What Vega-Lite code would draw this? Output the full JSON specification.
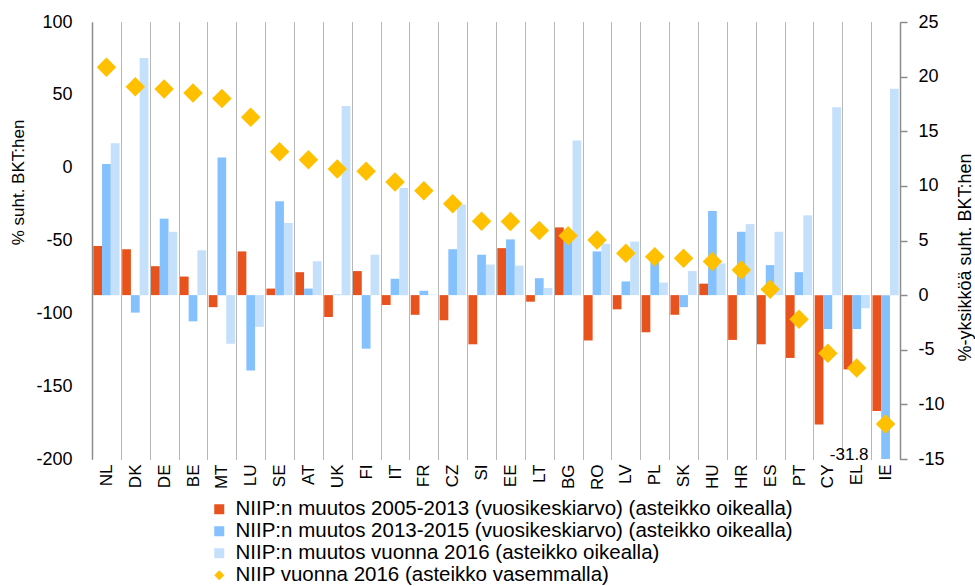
{
  "$schema": "https://vega.github.io/schema/vega-lite/v6.json",
  "width": 808,
  "height": 437,
  "autosize": {"type": "none"},
  "padding": {"left": 92, "top": 22, "right": 75, "bottom": 127},
  "background": "white",
  "config": {"font": "Liberation Sans", "view": {"stroke": null}},
  "datasets": {
    "bars": [
      {"country": "NL", "series": "NIIP:n muutos 2005-2013 (vuosikeskiarvo) (asteikko oikealla)", "value": 4.5},
      {"country": "NL", "series": "NIIP:n muutos 2013-2015 (vuosikeskiarvo) (asteikko oikealla)", "value": 12.0},
      {"country": "NL", "series": "NIIP:n muutos vuonna 2016 (asteikko oikealla)", "value": 13.9},
      {"country": "DK", "series": "NIIP:n muutos 2005-2013 (vuosikeskiarvo) (asteikko oikealla)", "value": 4.2},
      {"country": "DK", "series": "NIIP:n muutos 2013-2015 (vuosikeskiarvo) (asteikko oikealla)", "value": -1.6},
      {"country": "DK", "series": "NIIP:n muutos vuonna 2016 (asteikko oikealla)", "value": 21.7},
      {"country": "DE", "series": "NIIP:n muutos 2005-2013 (vuosikeskiarvo) (asteikko oikealla)", "value": 2.65},
      {"country": "DE", "series": "NIIP:n muutos 2013-2015 (vuosikeskiarvo) (asteikko oikealla)", "value": 7.0},
      {"country": "DE", "series": "NIIP:n muutos vuonna 2016 (asteikko oikealla)", "value": 5.8},
      {"country": "BE", "series": "NIIP:n muutos 2005-2013 (vuosikeskiarvo) (asteikko oikealla)", "value": 1.7},
      {"country": "BE", "series": "NIIP:n muutos 2013-2015 (vuosikeskiarvo) (asteikko oikealla)", "value": -2.4},
      {"country": "BE", "series": "NIIP:n muutos vuonna 2016 (asteikko oikealla)", "value": 4.1},
      {"country": "MT", "series": "NIIP:n muutos 2005-2013 (vuosikeskiarvo) (asteikko oikealla)", "value": -1.1},
      {"country": "MT", "series": "NIIP:n muutos 2013-2015 (vuosikeskiarvo) (asteikko oikealla)", "value": 12.6},
      {"country": "MT", "series": "NIIP:n muutos vuonna 2016 (asteikko oikealla)", "value": -4.45},
      {"country": "LU", "series": "NIIP:n muutos 2005-2013 (vuosikeskiarvo) (asteikko oikealla)", "value": 4.0},
      {"country": "LU", "series": "NIIP:n muutos 2013-2015 (vuosikeskiarvo) (asteikko oikealla)", "value": -6.9},
      {"country": "LU", "series": "NIIP:n muutos vuonna 2016 (asteikko oikealla)", "value": -2.9},
      {"country": "SE", "series": "NIIP:n muutos 2005-2013 (vuosikeskiarvo) (asteikko oikealla)", "value": 0.6},
      {"country": "SE", "series": "NIIP:n muutos 2013-2015 (vuosikeskiarvo) (asteikko oikealla)", "value": 8.6},
      {"country": "SE", "series": "NIIP:n muutos vuonna 2016 (asteikko oikealla)", "value": 6.6},
      {"country": "AT", "series": "NIIP:n muutos 2005-2013 (vuosikeskiarvo) (asteikko oikealla)", "value": 2.1},
      {"country": "AT", "series": "NIIP:n muutos 2013-2015 (vuosikeskiarvo) (asteikko oikealla)", "value": 0.6},
      {"country": "AT", "series": "NIIP:n muutos vuonna 2016 (asteikko oikealla)", "value": 3.1},
      {"country": "UK", "series": "NIIP:n muutos 2005-2013 (vuosikeskiarvo) (asteikko oikealla)", "value": -2.0},
      {"country": "UK", "series": "NIIP:n muutos 2013-2015 (vuosikeskiarvo) (asteikko oikealla)", "value": 0.05},
      {"country": "UK", "series": "NIIP:n muutos vuonna 2016 (asteikko oikealla)", "value": 17.3},
      {"country": "FI", "series": "NIIP:n muutos 2005-2013 (vuosikeskiarvo) (asteikko oikealla)", "value": 2.2},
      {"country": "FI", "series": "NIIP:n muutos 2013-2015 (vuosikeskiarvo) (asteikko oikealla)", "value": -4.9},
      {"country": "FI", "series": "NIIP:n muutos vuonna 2016 (asteikko oikealla)", "value": 3.7},
      {"country": "IT", "series": "NIIP:n muutos 2005-2013 (vuosikeskiarvo) (asteikko oikealla)", "value": -0.9},
      {"country": "IT", "series": "NIIP:n muutos 2013-2015 (vuosikeskiarvo) (asteikko oikealla)", "value": 1.5},
      {"country": "IT", "series": "NIIP:n muutos vuonna 2016 (asteikko oikealla)", "value": 9.8},
      {"country": "FR", "series": "NIIP:n muutos 2005-2013 (vuosikeskiarvo) (asteikko oikealla)", "value": -1.8},
      {"country": "FR", "series": "NIIP:n muutos 2013-2015 (vuosikeskiarvo) (asteikko oikealla)", "value": 0.4},
      {"country": "FR", "series": "NIIP:n muutos vuonna 2016 (asteikko oikealla)", "value": 0.05},
      {"country": "CZ", "series": "NIIP:n muutos 2005-2013 (vuosikeskiarvo) (asteikko oikealla)", "value": -2.3},
      {"country": "CZ", "series": "NIIP:n muutos 2013-2015 (vuosikeskiarvo) (asteikko oikealla)", "value": 4.2},
      {"country": "CZ", "series": "NIIP:n muutos vuonna 2016 (asteikko oikealla)", "value": 8.3},
      {"country": "SI", "series": "NIIP:n muutos 2005-2013 (vuosikeskiarvo) (asteikko oikealla)", "value": -4.5},
      {"country": "SI", "series": "NIIP:n muutos 2013-2015 (vuosikeskiarvo) (asteikko oikealla)", "value": 3.7},
      {"country": "SI", "series": "NIIP:n muutos vuonna 2016 (asteikko oikealla)", "value": 2.8},
      {"country": "EE", "series": "NIIP:n muutos 2005-2013 (vuosikeskiarvo) (asteikko oikealla)", "value": 4.3},
      {"country": "EE", "series": "NIIP:n muutos 2013-2015 (vuosikeskiarvo) (asteikko oikealla)", "value": 5.1},
      {"country": "EE", "series": "NIIP:n muutos vuonna 2016 (asteikko oikealla)", "value": 2.7},
      {"country": "LT", "series": "NIIP:n muutos 2005-2013 (vuosikeskiarvo) (asteikko oikealla)", "value": -0.6},
      {"country": "LT", "series": "NIIP:n muutos 2013-2015 (vuosikeskiarvo) (asteikko oikealla)", "value": 1.55},
      {"country": "LT", "series": "NIIP:n muutos vuonna 2016 (asteikko oikealla)", "value": 0.65},
      {"country": "BG", "series": "NIIP:n muutos 2005-2013 (vuosikeskiarvo) (asteikko oikealla)", "value": 6.2},
      {"country": "BG", "series": "NIIP:n muutos 2013-2015 (vuosikeskiarvo) (asteikko oikealla)", "value": 5.0},
      {"country": "BG", "series": "NIIP:n muutos vuonna 2016 (asteikko oikealla)", "value": 14.15},
      {"country": "RO", "series": "NIIP:n muutos 2005-2013 (vuosikeskiarvo) (asteikko oikealla)", "value": -4.15},
      {"country": "RO", "series": "NIIP:n muutos 2013-2015 (vuosikeskiarvo) (asteikko oikealla)", "value": 4.0},
      {"country": "RO", "series": "NIIP:n muutos vuonna 2016 (asteikko oikealla)", "value": 4.7},
      {"country": "LV", "series": "NIIP:n muutos 2005-2013 (vuosikeskiarvo) (asteikko oikealla)", "value": -1.3},
      {"country": "LV", "series": "NIIP:n muutos 2013-2015 (vuosikeskiarvo) (asteikko oikealla)", "value": 1.25},
      {"country": "LV", "series": "NIIP:n muutos vuonna 2016 (asteikko oikealla)", "value": 4.9},
      {"country": "PL", "series": "NIIP:n muutos 2005-2013 (vuosikeskiarvo) (asteikko oikealla)", "value": -3.4},
      {"country": "PL", "series": "NIIP:n muutos 2013-2015 (vuosikeskiarvo) (asteikko oikealla)", "value": 3.2},
      {"country": "PL", "series": "NIIP:n muutos vuonna 2016 (asteikko oikealla)", "value": 1.15},
      {"country": "SK", "series": "NIIP:n muutos 2005-2013 (vuosikeskiarvo) (asteikko oikealla)", "value": -1.8},
      {"country": "SK", "series": "NIIP:n muutos 2013-2015 (vuosikeskiarvo) (asteikko oikealla)", "value": -1.1},
      {"country": "SK", "series": "NIIP:n muutos vuonna 2016 (asteikko oikealla)", "value": 2.2},
      {"country": "HU", "series": "NIIP:n muutos 2005-2013 (vuosikeskiarvo) (asteikko oikealla)", "value": 1.05},
      {"country": "HU", "series": "NIIP:n muutos 2013-2015 (vuosikeskiarvo) (asteikko oikealla)", "value": 7.7},
      {"country": "HU", "series": "NIIP:n muutos vuonna 2016 (asteikko oikealla)", "value": 2.9},
      {"country": "HR", "series": "NIIP:n muutos 2005-2013 (vuosikeskiarvo) (asteikko oikealla)", "value": -4.1},
      {"country": "HR", "series": "NIIP:n muutos 2013-2015 (vuosikeskiarvo) (asteikko oikealla)", "value": 5.8},
      {"country": "HR", "series": "NIIP:n muutos vuonna 2016 (asteikko oikealla)", "value": 6.5},
      {"country": "ES", "series": "NIIP:n muutos 2005-2013 (vuosikeskiarvo) (asteikko oikealla)", "value": -4.5},
      {"country": "ES", "series": "NIIP:n muutos 2013-2015 (vuosikeskiarvo) (asteikko oikealla)", "value": 2.75},
      {"country": "ES", "series": "NIIP:n muutos vuonna 2016 (asteikko oikealla)", "value": 5.8},
      {"country": "PT", "series": "NIIP:n muutos 2005-2013 (vuosikeskiarvo) (asteikko oikealla)", "value": -5.75},
      {"country": "PT", "series": "NIIP:n muutos 2013-2015 (vuosikeskiarvo) (asteikko oikealla)", "value": 2.1},
      {"country": "PT", "series": "NIIP:n muutos vuonna 2016 (asteikko oikealla)", "value": 7.3},
      {"country": "CY", "series": "NIIP:n muutos 2005-2013 (vuosikeskiarvo) (asteikko oikealla)", "value": -11.85},
      {"country": "CY", "series": "NIIP:n muutos 2013-2015 (vuosikeskiarvo) (asteikko oikealla)", "value": -3.1},
      {"country": "CY", "series": "NIIP:n muutos vuonna 2016 (asteikko oikealla)", "value": 17.2},
      {"country": "EL", "series": "NIIP:n muutos 2005-2013 (vuosikeskiarvo) (asteikko oikealla)", "value": -6.8},
      {"country": "EL", "series": "NIIP:n muutos 2013-2015 (vuosikeskiarvo) (asteikko oikealla)", "value": -3.1},
      {"country": "EL", "series": "NIIP:n muutos vuonna 2016 (asteikko oikealla)", "value": -1.2},
      {"country": "IE", "series": "NIIP:n muutos 2005-2013 (vuosikeskiarvo) (asteikko oikealla)", "value": -10.6},
      {"country": "IE", "series": "NIIP:n muutos 2013-2015 (vuosikeskiarvo) (asteikko oikealla)", "value": -31.8},
      {"country": "IE", "series": "NIIP:n muutos vuonna 2016 (asteikko oikealla)", "value": 18.9}
    ],
    "niip": [
      {"country": "NL", "series": "NIIP vuonna 2016 (asteikko vasemmalla)", "value": 69},
      {"country": "DK", "series": "NIIP vuonna 2016 (asteikko vasemmalla)", "value": 55.6},
      {"country": "DE", "series": "NIIP vuonna 2016 (asteikko vasemmalla)", "value": 54},
      {"country": "BE", "series": "NIIP vuonna 2016 (asteikko vasemmalla)", "value": 51.3},
      {"country": "MT", "series": "NIIP vuonna 2016 (asteikko vasemmalla)", "value": 47.4},
      {"country": "LU", "series": "NIIP vuonna 2016 (asteikko vasemmalla)", "value": 34.6},
      {"country": "SE", "series": "NIIP vuonna 2016 (asteikko vasemmalla)", "value": 11.0},
      {"country": "AT", "series": "NIIP vuonna 2016 (asteikko vasemmalla)", "value": 5.5},
      {"country": "UK", "series": "NIIP vuonna 2016 (asteikko vasemmalla)", "value": -0.9},
      {"country": "FI", "series": "NIIP vuonna 2016 (asteikko vasemmalla)", "value": -2.5},
      {"country": "IT", "series": "NIIP vuonna 2016 (asteikko vasemmalla)", "value": -9.8},
      {"country": "FR", "series": "NIIP vuonna 2016 (asteikko vasemmalla)", "value": -15.8},
      {"country": "CZ", "series": "NIIP vuonna 2016 (asteikko vasemmalla)", "value": -24.7},
      {"country": "SI", "series": "NIIP vuonna 2016 (asteikko vasemmalla)", "value": -36.8},
      {"country": "EE", "series": "NIIP vuonna 2016 (asteikko vasemmalla)", "value": -37.0},
      {"country": "LT", "series": "NIIP vuonna 2016 (asteikko vasemmalla)", "value": -43.2},
      {"country": "BG", "series": "NIIP vuonna 2016 (asteikko vasemmalla)", "value": -46.7},
      {"country": "RO", "series": "NIIP vuonna 2016 (asteikko vasemmalla)", "value": -49.6},
      {"country": "LV", "series": "NIIP vuonna 2016 (asteikko vasemmalla)", "value": -58.8},
      {"country": "PL", "series": "NIIP vuonna 2016 (asteikko vasemmalla)", "value": -61.1},
      {"country": "SK", "series": "NIIP vuonna 2016 (asteikko vasemmalla)", "value": -62.2},
      {"country": "HU", "series": "NIIP vuonna 2016 (asteikko vasemmalla)", "value": -64.5},
      {"country": "HR", "series": "NIIP vuonna 2016 (asteikko vasemmalla)", "value": -70.2},
      {"country": "ES", "series": "NIIP vuonna 2016 (asteikko vasemmalla)", "value": -83.5},
      {"country": "PT", "series": "NIIP vuonna 2016 (asteikko vasemmalla)", "value": -104.0},
      {"country": "CY", "series": "NIIP vuonna 2016 (asteikko vasemmalla)", "value": -127.4},
      {"country": "EL", "series": "NIIP vuonna 2016 (asteikko vasemmalla)", "value": -137.6},
      {"country": "IE", "series": "NIIP vuonna 2016 (asteikko vasemmalla)", "value": -176.0}
    ],
    "label": [
      {"country": "IE", "value": -15, "text": "-31.8"}
    ]
  },
  "layer": [
    {
      "data": {"name": "bars"},
      "mark": {"type": "bar", "clip": true},
      "encoding": {
        "x": {
          "field": "country", "type": "nominal",
          "scale": {"domain": ["NL","DK","DE","BE","MT","LU","SE","AT","UK","FI","IT","FR","CZ","SI","EE","LT","BG","RO","LV","PL","SK","HU","HR","ES","PT","CY","EL","IE"], "paddingInner": 0, "paddingOuter": 0},
          "axis": {"title": null, "labelAngle": -90, "labelFontSize": 17, "labelColor": "#000000", "labelPadding": 5, "ticks": false, "domain": false, "grid": true, "tickBand": "extent", "gridColor": "#6e6e6e", "gridDash": [1, 1], "gridWidth": 1}
        },
        "xOffset": {
          "field": "series", "type": "nominal",
          "scale": {"domain": ["NIIP:n muutos 2005-2013 (vuosikeskiarvo) (asteikko oikealla)", "NIIP:n muutos 2013-2015 (vuosikeskiarvo) (asteikko oikealla)", "NIIP:n muutos vuonna 2016 (asteikko oikealla)"], "paddingInner": 0, "paddingOuter": 0.15}
        },
        "y": {
          "field": "value", "type": "quantitative",
          "scale": {"domain": [-15, 25], "nice": false, "zero": false},
          "axis": {"orient": "right", "title": "%-yksikköä suht. BKT:hen", "titleFontSize": 18, "titleFontWeight": "normal", "titleColor": "#000000", "titleAngle": -90, "titleX": 65, "titleY": 235, "titleAlign": "center", "titleBaseline": "middle", "values": [-15, -10, -5, 0, 5, 10, 15, 20, 25], "labelExpr": "'' + datum.value", "labelFontSize": 18, "labelColor": "#000000", "tickSize": 7, "labelPadding": 11, "tickColor": "#8c8c8c", "domainColor": "#8c8c8c", "domainWidth": 1.5, "tickWidth": 1.5, "grid": false}
        },
        "color": {
          "field": "series", "type": "nominal",
          "scale": {"domain": ["NIIP:n muutos 2005-2013 (vuosikeskiarvo) (asteikko oikealla)", "NIIP:n muutos 2013-2015 (vuosikeskiarvo) (asteikko oikealla)", "NIIP:n muutos vuonna 2016 (asteikko oikealla)", "NIIP vuonna 2016 (asteikko vasemmalla)"], "range": ["#E8521C", "#85C1FC", "#C4E0FB", "#FFC000"]},
          "legend": {"orient": "none", "legendX": 117, "legendY": 477, "direction": "vertical", "title": null, "labelFontSize": 20.5, "labelColor": "#000000", "symbolSize": 100, "rowPadding": 1, "labelOffset": 6, "labelLimit": 900, "symbolStrokeWidth": 0}
        }
      }
    },
    {
      "data": {"name": "label"},
      "mark": {"type": "text", "align": "right", "baseline": "alphabetic", "dx": -17, "dy": 1, "fontSize": 17, "color": "#000000"},
      "encoding": {
        "x": {"field": "country", "type": "nominal"},
        "y": {"field": "value", "type": "quantitative", "scale": {"domain": [-15, 25], "nice": false, "zero": false}, "axis": null},
        "text": {"field": "text", "type": "nominal"}
      }
    },
    {
      "data": {"name": "niip"},
      "mark": {"type": "point", "filled": true, "opacity": 1, "size": 380},
      "encoding": {
        "x": {"field": "country", "type": "nominal"},
        "y": {
          "field": "value", "type": "quantitative",
          "scale": {"domain": [-200, 100], "nice": false, "zero": false},
          "axis": {"orient": "left", "title": "% suht. BKT:hen", "titleFontSize": 17, "titleFontWeight": "normal", "titleColor": "#000000", "titleAngle": -90, "titleX": -74, "titleY": 160, "titleAlign": "center", "titleBaseline": "middle", "values": [-200, -150, -100, -50, 0, 50, 100], "labelExpr": "'' + datum.value", "labelFontSize": 18, "labelColor": "#000000", "ticks": false, "tickSize": 0, "labelPadding": 20, "domainColor": "#8c8c8c", "domainWidth": 1.5, "grid": false}
        },
        "color": {
          "field": "series", "type": "nominal",
          "scale": {"domain": ["NIIP:n muutos 2005-2013 (vuosikeskiarvo) (asteikko oikealla)", "NIIP:n muutos 2013-2015 (vuosikeskiarvo) (asteikko oikealla)", "NIIP:n muutos vuonna 2016 (asteikko oikealla)", "NIIP vuonna 2016 (asteikko vasemmalla)"], "range": ["#E8521C", "#85C1FC", "#C4E0FB", "#FFC000"]},
          "legend": {"orient": "none", "legendX": 117, "legendY": 477, "direction": "vertical", "title": null, "labelFontSize": 20.5, "labelColor": "#000000", "symbolSize": 100, "rowPadding": 1, "labelOffset": 6, "labelLimit": 900, "symbolStrokeWidth": 0}
        },
        "shape": {
          "field": "series", "type": "nominal",
          "scale": {"domain": ["NIIP:n muutos 2005-2013 (vuosikeskiarvo) (asteikko oikealla)", "NIIP:n muutos 2013-2015 (vuosikeskiarvo) (asteikko oikealla)", "NIIP:n muutos vuonna 2016 (asteikko oikealla)", "NIIP vuonna 2016 (asteikko vasemmalla)"], "range": ["square", "square", "square", "diamond"]},
          "legend": {"orient": "none", "legendX": 117, "legendY": 477, "direction": "vertical", "title": null, "labelFontSize": 20.5, "labelColor": "#000000", "symbolSize": 100, "rowPadding": 1, "labelOffset": 6, "labelLimit": 900, "symbolStrokeWidth": 0}
        }
      }
    }
  ],
  "resolve": {"scale": {"y": "independent"}, "axis": {"y": "independent"}}
}
